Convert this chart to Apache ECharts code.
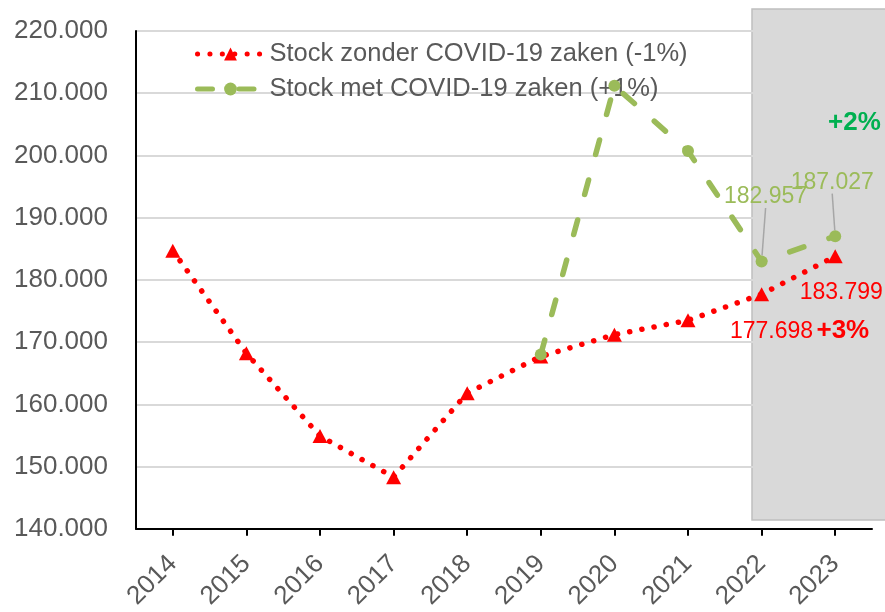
<!DOCTYPE html>
<html>
<head>
<meta charset="utf-8">
<script src="https://cdn.jsdelivr.net/npm/echarts@6/dist/echarts.min.js"></script>
<style>
  html, body { margin: 0; padding: 0; background: #fff; }
  #chart { width: 885px; height: 612px; }
</style>
</head>
<body>
<div id="chart"></div>
<script>
const YEARS = ['2014', '2015', '2016', '2017', '2018', '2019', '2020', '2021', '2022', '2023'];
const STOCK_ZONDER = [184700, 168200, 154900, 148300, 161800, 167700, 171200, 173500, 177698, 183799];
const STOCK_MET = [null, null, null, null, null, 168000, 211200, 200700, 182957, 187027];
const NAME_ZONDER = 'Stock zonder COVID-19 zaken (-1%)';
const NAME_MET = 'Stock met COVID-19 zaken (+1%)';
const Y_MIN = 140000;
const Y_MAX = 220000;
const Y_STEP = 10000;

const RED = '#ff0000';
const GREEN = '#9bbb59';
const LABEL = '#595959';
const FONT = "'Liberation Sans', Arial, sans-serif";

// 184700 -> "184.700"
const nl = v => String(Math.round(v)).replace(/\B(?=(\d{3})+(?!\d))/g, '.');

const chart = echarts.init(document.getElementById('chart'), null, {renderer: 'canvas'});

// data labels only on the last two years
const redData = STOCK_ZONDER.map((v, i) => {
  if (i === 8) {
    return {
      value: v,
      label: {
        show: true, position: 'inside', offset: [38, 37],
        formatter: '{a|' + nl(v) + '} {b|+3%}',
        rich: {
          a: {color: RED, fontSize: 23, fontFamily: FONT},
          b: {color: RED, fontSize: 26, fontWeight: 'bold', fontFamily: FONT},
        },
      },
    };
  }
  if (i === 9) {
    return {
      value: v,
      label: {
        show: true, position: 'inside', offset: [6, 36],
        formatter: nl(v), color: RED, fontSize: 23, fontFamily: FONT,
      },
    };
  }
  return v;
});

const greenOffsets = {8: [4, -65], 9: [-3, -54]};
const greenData = STOCK_MET.map((v, i) => greenOffsets[i] ? {
  value: v,
  label: {
    show: true, position: 'inside', offset: greenOffsets[i],
    formatter: nl(v), color: GREEN, fontSize: 23, fontFamily: FONT,
  },
  labelLine: {show: true, lineStyle: {color: '#a6a6a6', width: 1.5}},
} : v);

chart.setOption({
  animation: false,
  grid: {left: 136, right: 13, top: 31, bottom: 83},
  legend: {
    orient: 'vertical',
    left: 190,
    top: 36,
    itemWidth: 66,
    itemHeight: 16,
    itemGap: 9,
    data: [NAME_ZONDER, NAME_MET],
    lineStyle: {width: 5},
    textStyle: {color: LABEL, fontSize: 25.5, fontFamily: FONT, padding: [0, 0, 0, 1]},
  },
  graphic: [
    {
      type: 'rect', z: -1, silent: true,
      shape: {x: 752, y: 9, width: 140, height: 511},
      style: {fill: '#d9d9d9', stroke: '#bfbfbf', lineWidth: 1.5},
    },
    {
      type: 'text', z: 10, silent: true,
      x: 828, y: 123,
      style: {
        text: '+2%', fill: '#00b050', fontSize: 26, fontWeight: 'bold',
        fontFamily: FONT, verticalAlign: 'middle',
      },
    },
  ],
  xAxis: {
    type: 'category',
    data: YEARS,
    axisLine: {lineStyle: {color: '#000', width: 2}},
    axisTick: {show: true, alignWithLabel: true, length: 7, lineStyle: {color: '#000', width: 2}},
    axisLabel: {color: LABEL, fontSize: 26, fontFamily: FONT, rotate: 45, margin: 31},
    splitLine: {show: false},
  },
  yAxis: {
    type: 'value',
    min: Y_MIN,
    max: Y_MAX,
    interval: Y_STEP,
    axisLine: {show: true, lineStyle: {color: '#000', width: 2}},
    axisTick: {show: false},
    axisLabel: {color: LABEL, fontSize: 26, fontFamily: FONT, margin: 28, formatter: v => nl(v)},
    splitLine: {lineStyle: {color: '#d9d9d9', width: 2}},
  },
  series: [
    {
      name: NAME_ZONDER,
      type: 'line',
      data: redData,
      color: RED,
      symbol: 'triangle',
      symbolSize: [15, 14],
      lineStyle: {color: RED, width: 5.5, type: [0.1, 12.3], cap: 'round'},
      itemStyle: {color: RED},
      z: 3,
    },
    {
      name: NAME_MET,
      type: 'line',
      data: greenData,
      color: GREEN,
      symbol: 'circle',
      symbolSize: 12,
      connectNulls: false,
      lineStyle: {color: GREEN, width: 5.5, type: [15, 26.5], cap: 'round'},
      itemStyle: {color: GREEN},
      z: 4,
    },
  ],
});
</script>
</body>
</html>
